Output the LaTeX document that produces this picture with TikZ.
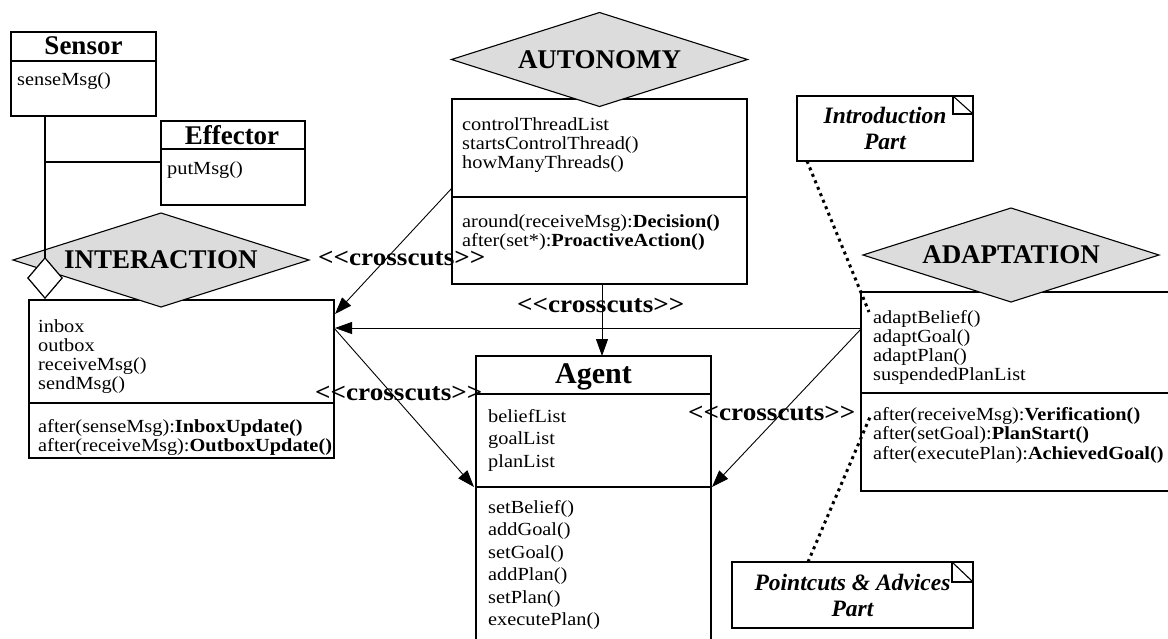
\documentclass[tikz,border=0pt]{standalone}
\usepackage{fontspec}
\setmainfont{Liberation Serif}
\newfontfamily\regf{Liberation Serif}[FakeStretch=1.1]
\usetikzlibrary{shapes.geometric,arrows.meta,calc}
\definecolor{aspectgray}{HTML}{DCDCDC}
\tikzset{
  box/.style={draw, line width=1.3pt, inner sep=0, outer sep=0, anchor=north west},
  sep/.style={line width=1.3pt},
  ln/.style={font=\regf\fontsize{18.5}{19}\selectfont, anchor=base west, inner sep=0},
  ttl/.style={font=\bfseries\fontsize{27}{27}\selectfont, anchor=base, inner sep=0},
  asp/.style={diamond, draw, line width=1.1pt, fill=aspectgray, aspect=3.15,
    minimum width=296pt, minimum height=94pt, inner sep=0, outer sep=0,
    font=\bfseries\fontsize{27}{27}\selectfont},
  agg/.style={diamond, draw, line width=1.1pt, fill=white, aspect=0.85,
    minimum width=34pt, minimum height=40pt, inner sep=0, outer sep=0},
  cc/.style={font=\regf\bfseries\fontsize{24.7}{25}\selectfont, anchor=base west, inner sep=0},
  arr/.style={line width=0.9pt, -{Triangle[length=17pt,width=12pt]}},
  plain/.style={line width=1.1pt},
  dots/.style={line width=3pt, dash pattern=on 3pt off 4pt},
  note/.style={draw, line width=1.3pt, inner sep=0, outer sep=0, align=center,
    font=\bfseries\itshape\fontsize{23.5}{26}\selectfont},
}
\begin{document}
\begin{tikzpicture}[x=1pt, y=-1pt]
\useasboundingbox (0,0) rectangle (1168,638);
\clip (0,0) rectangle (1168,638);
\fill[white] (0,0) rectangle (1168,638);

% ---------- Sensor ----------
\node[box, minimum width=145pt, minimum height=84pt] (sensor) at (11,32) {};
\draw[sep] ($(sensor.north west)+(0,29)$) -- ($(sensor.north east)+(0,29)$);
\node[ttl] (sensorT) at (83.5,54) {Sensor};
\node[ln] (sensor1) at (17,85) {senseMsg()};

% ---------- Effector ----------
\node[box, minimum width=144pt, minimum height=84pt] (effector) at (161,121) {};
\draw[sep] ($(effector.north west)+(0,28)$) -- ($(effector.north east)+(0,28)$);
\node[ttl] (effectorT) at (232,144) {Effector};
\node[ln] (effector1) at (167,174) {putMsg()};

% ---------- Interaction ----------
\node[box, minimum width=305pt, minimum height=158pt] (intbox) at (29,300) {};
\draw[sep] ($(intbox.north west)+(0,103)$) -- ($(intbox.north east)+(0,103)$);
\node[ln] (i1) at (38,332) {inbox};
\node[ln] (i2) at (38,351) {outbox};
\node[ln] (i3) at (38,370) {receiveMsg()};
\node[ln] (i4) at (38,389) {sendMsg()};
\node[ln] (i5) at (38,432) {after(senseMsg):{\bfseries InboxUpdate()}};
\node[ln] (i6) at (38,451) {after(receiveMsg):{\bfseries OutboxUpdate()}};

% ---------- Autonomy ----------
\node[box, minimum width=295pt, minimum height=185pt] (autbox) at (452,99) {};
\draw[sep] ($(autbox.north west)+(0,98)$) -- ($(autbox.north east)+(0,98)$);
\node[ln] (a1) at (462,130) {controlThreadList};
\node[ln] (a2) at (462,149) {startsControlThread()};
\node[ln] (a3) at (462,168) {howManyThreads()};
\node[ln] (a4) at (462,227) {around(receiveMsg):{\bfseries Decision()}};
\node[ln] (a5) at (462,246) {after(set*):{\bfseries ProactiveAction()}};

% ---------- Agent ----------
\node[box, minimum width=235pt, minimum height=300pt] (agent) at (476,356) {};
\draw[sep] ($(agent.north west)+(0,38)$) -- ($(agent.north east)+(0,38)$);
\draw[sep] ($(agent.north west)+(0,131)$) -- ($(agent.north east)+(0,131)$);
\node[ttl, font=\bfseries\fontsize{30}{30}\selectfont] (agentT) at (593.5,383) {Agent};
\node[ln] (g1) at (488,422) {beliefList};
\node[ln] (g2) at (488,444.5) {goalList};
\node[ln] (g3) at (488,467) {planList};
\node[ln] (g4) at (488,513) {setBelief()};
\node[ln] (g5) at (488,535.5) {addGoal()};
\node[ln] (g6) at (488,558) {setGoal()};
\node[ln] (g7) at (488,580.5) {addPlan()};
\node[ln] (g8) at (488,603) {setPlan()};
\node[ln] (g9) at (488,625.5) {executePlan()};

% ---------- Adaptation ----------
\node[box, minimum width=330pt, minimum height=199pt] (adapbox) at (861,292) {};
\draw[sep] ($(adapbox.north west)+(0,101)$) -- ($(adapbox.north east)+(0,101)$);
\node[ln] (d1) at (873,323) {adaptBelief()};
\node[ln] (d2) at (873,342) {adaptGoal()};
\node[ln] (d3) at (873,361) {adaptPlan()};
\node[ln] (d4) at (873,380) {suspendedPlanList};
\node[ln] (d5) at (873,420) {after(receiveMsg):{\bfseries Verification()}};
\node[ln] (d6) at (873,439) {after(setGoal):{\bfseries PlanStart()}};
\node[ln] (d7) at (873,459) {after(executePlan):{\bfseries AchievedGoal()}};

% ---------- Aspect diamonds ----------
\node[asp] (interaction) at (161,260) {INTERACTION};
\node[asp] (autonomy) at (599.5,59.5) {AUTONOMY};
\node[asp] (adaptation) at (1011,255) {ADAPTATION};

% ---------- Sensor / Effector links ----------
\node[agg] (aggd) at (45,278) {};
\draw[plain] (sensor.south west -| aggd.north) -- (aggd.north);
\coordinate (effJ) at ($(effector.north west)+(0,41)$);
\draw[plain] (effJ) -- (effJ -| aggd.north);
\node[agg] at (aggd) {};

% ---------- Notes ----------
\node[note, minimum width=176pt, minimum height=65pt, anchor=north west] (intro) at (797,96) {Introduction\\Part};
\draw[line width=1.1pt] ($(intro.north east)+(-20,0)$) -- ++(0,18) -- ($(intro.north east)+(0,18)$);
\draw[line width=1.1pt] ($(intro.north east)+(-20,0)$) -- ($(intro.north east)+(0,18)$);
\node[note, minimum width=241pt, minimum height=66pt, anchor=north west] (pc) at (732,562) {Pointcuts \& Advices\\Part};
\draw[line width=1.1pt] ($(pc.north east)+(-21,0)$) -- ++(0,20) -- ($(pc.north east)+(0,20)$);
\draw[line width=1.1pt] ($(pc.north east)+(-21,0)$) -- ($(pc.north east)+(0,20)$);

\draw[dots] ($(intro.south west)+(10,0)$) -- ($(adapbox.north west)+(8,20)$);
\draw[dots] ($(pc.north west)+(76,0)$) -- ($(adapbox.north west)+(9,125)$);

% ---------- crosscuts connectors ----------
\draw[arr] ($(autbox.north west)+(0,89)$) -- ($(intbox.north east)+(1,14)$);
\draw[arr] ($(adapbox.north west)+(0,36)$) -- ($(intbox.north east)+(1,28)$);
\draw[arr] ($(adapbox.north west)+(0,37)$) -- ($(agent.north east)+(1,131)$);
\draw[arr] ($(intbox.north east)+(0,28)$) -- ($(agent.north west)+(-2,131)$);
\draw[arr] ($(autbox.south west)+(150,0)$) -- ($(agent.north west)+(126,0)$);

\node[cc] (cc1) at (318,265) {<<crosscuts>>};
\node[cc] (cc2) at (517,312) {<<crosscuts>>};
\node[cc] (cc3) at (315,400) {<<crosscuts>>};
\node[cc] (cc4) at (688,420) {<<crosscuts>>};
\end{tikzpicture}
\end{document}
